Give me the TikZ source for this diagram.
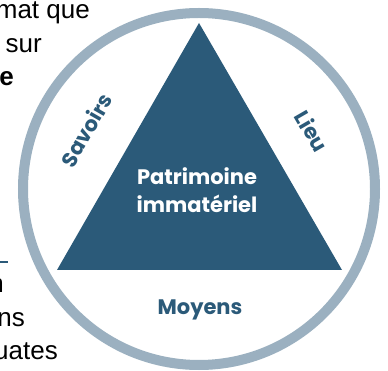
\documentclass[tikz,border=0pt]{standalone}
\usepackage{fontspec}
\setmainfont{Liberation Sans}
\newfontfamily\pop{Poppins}
\definecolor{ringc}{RGB}{155,176,192}
\definecolor{tric}{RGB}{43,90,121}
\begin{document}
\begin{tikzpicture}[x=1pt,y=-1pt,
  sidelabel/.style={font=\pop\bfseries\fontsize{21}{21}\selectfont, text=tric, inner sep=0pt},
  bodytext/.style={font=\fontsize{26}{26}\selectfont, inner sep=0pt, anchor=base east, text=black}]
\useasboundingbox (0,0) rectangle (388,371);
\fill[white] (0,0) rectangle (388,371);
\begin{scope}
\clip (0,0) rectangle (388,371);
\coordinate (c) at (199,189);
\draw[ringc, line width=10pt] (c) circle[radius=176];
\coordinate (A) at (199,23);
\coordinate (B) at (57,270);
\coordinate (C) at (342,270);
\fill[tric] (A) -- (B) -- (C) -- cycle;
\node[font=\pop\bfseries\fontsize{21}{28}\selectfont, text=white, align=center, inner sep=0pt] (pi) at (197,190) {Patrimoine\\immatériel};
\node[sidelabel] (moy) at (200,310) {Moyens};
\node[sidelabel, rotate=60] (sav) at (86,130) {Savoirs};
\node[sidelabel, rotate=-60] (lieu) at (312,131) {Lieu};
\node[bodytext] (t1) at (90,19) {mat que};
\node[bodytext] (t2) at (42,53) {sur};
\node[bodytext, font=\fontsize{26}{26}\selectfont\bfseries] (t3) at (14,86) {e};
\coordinate (r1) at (-2,262);
\coordinate (r2) at (8,262);
\draw[tric, line width=2pt] (r1) -- (r2);
\node[bodytext] (t4) at (4,293) {n};
\node[bodytext] (t5) at (25,326) {ns};
\node[bodytext] (t6) at (58,359) {uates};
\end{scope}
\end{tikzpicture}
\end{document}
